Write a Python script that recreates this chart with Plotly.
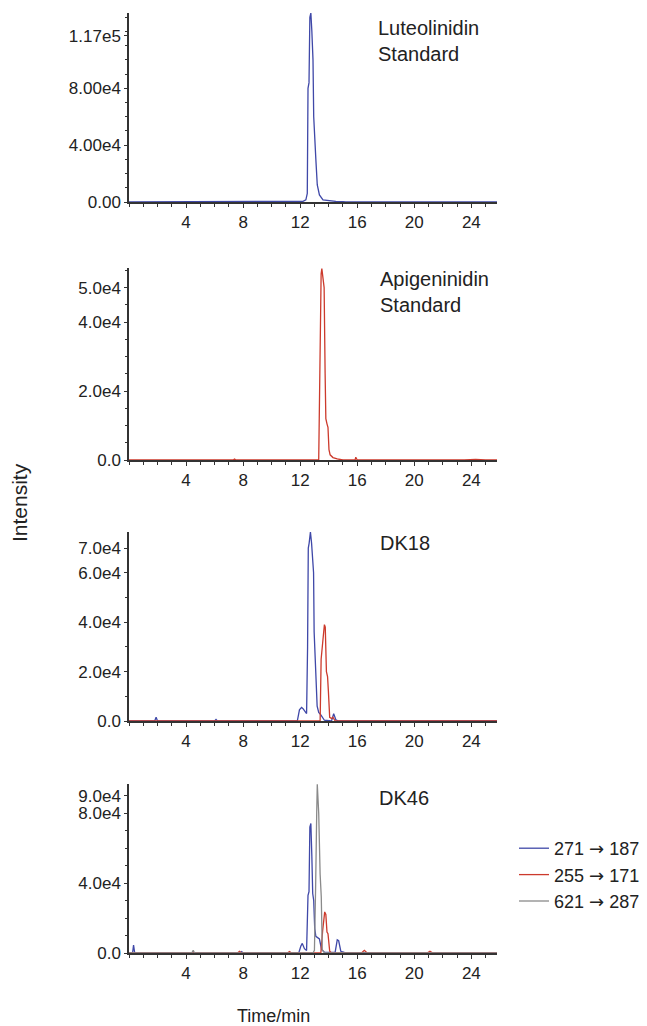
import plotly.graph_objects as go

# ---------------- data ----------------
panel_labels = ["Luteolinidin<br>Standard", "Apigeninidin<br>Standard", "DK18", "DK46"]
legend_names = ["271 \u2192 187", "255 \u2192 171", "621 \u2192 287"]
x_tick_vals = [4, 8, 12, 16, 20, 24]

# Panel 1: Luteolinidin standard (271 -> 187)
p1_blue_t = [0, 11.9, 12.2, 12.4, 12.5, 12.55, 12.62, 12.68, 12.75, 12.82, 12.9, 12.95, 13.0, 13.1, 13.2, 13.35, 13.6, 14.0, 14.5, 15.0, 15.2, 25.8]
p1_blue_i = [0, 0, 500, 1500, 6000, 80000, 84000, 130000, 133000, 120000, 100000, 60000, 45000, 30000, 12000, 5000, 1500, 800, 400, 200, 0, 0]

# Panel 2: Apigeninidin standard (255 -> 171)
p2_red_t = [0, 7.3, 7.4, 7.5, 13.3, 13.38, 13.42, 13.47, 13.52, 13.6, 13.68, 13.75, 13.8, 13.88, 13.95, 14.02, 14.1, 14.3, 14.6, 15.0, 15.85, 15.9, 16.0, 23.5, 24.3, 25.0, 25.8]
p2_red_i = [0, 0, 300, 0, 0, 30000, 35000, 54000, 55500, 53000, 50000, 25000, 12000, 10500, 9500, 3000, 1500, 700, 300, 0, 0, 800, 0, 0, 200, 0, 0]

# Panel 3: DK18
p3_blue_t = [0, 1.8, 1.9, 2.0, 6.0, 6.1, 6.2, 11.8, 11.95, 12.1, 12.2, 12.35, 12.45, 12.52, 12.57, 12.63, 12.72, 12.8, 12.88, 12.94, 12.98, 13.07, 13.19, 13.3, 13.45, 13.7, 14.2, 14.35, 14.5, 14.7, 25.8]
p3_blue_i = [0, 0, 1500, 0, 0, 600, 0, 0, 4500, 5500, 5000, 3500, 3000, 30000, 70000, 72000, 76500, 72000, 65000, 60000, 36000, 22000, 6000, 3500, 2500, 300, 0, 3000, 500, 0, 0]
p3_red_t = [0, 13.4, 13.47, 13.52, 13.6, 13.7, 13.76, 13.84, 13.92, 13.98, 14.07, 14.2, 14.3, 14.45, 25.8]
p3_red_i = [0, 0, 25000, 29000, 33000, 39000, 38000, 20000, 18000, 12000, 1500, 1000, 1500, 0, 0]

# Panel 4: DK46
p4_blue_t = [0, 0.25, 0.32, 0.4, 7.8, 7.9, 8.0, 11.9, 12.05, 12.15, 12.3, 12.45, 12.55, 12.62, 12.68, 12.75, 12.82, 12.88, 12.95, 13.02, 13.1, 13.2, 13.35, 13.5, 13.7, 14.45, 14.6, 14.7, 14.85, 15.1, 15.8, 25.8]
p4_blue_i = [0, 0, 4500, 0, 0, 800, 0, 0, 4000, 5500, 2500, 1500, 33000, 35000, 72000, 74000, 55000, 34000, 30000, 14000, 9500, 9000, 8000, 2000, 500, 300, 7500, 7000, 1000, 300, 0, 0]
p4_red_t = [0, 7.6, 7.75, 7.9, 11.1, 11.25, 11.4, 13.45, 13.58, 13.65, 13.72, 13.8, 13.88, 13.95, 14.07, 14.2, 16.3, 16.5, 16.7, 20.9, 21.1, 21.3, 25.8]
p4_red_i = [0, 0, 900, 0, 0, 800, 0, 0, 13000, 20000, 23500, 22000, 12000, 11000, 1000, 0, 0, 1500, 0, 0, 1000, 0, 0]
p4_gray_t = [0, 4.4, 4.5, 4.6, 12.9, 13.0, 13.08, 13.12, 13.16, 13.2, 13.25, 13.3, 13.4, 13.48, 13.55, 13.7, 25.8]
p4_gray_i = [0, 0, 1500, 0, 0, 1500, 36000, 76000, 80000, 96500, 90000, 80000, 45000, 32000, 2000, 0, 0]

y_tick_vals = [[0, 40000, 80000, 117000], [0, 20000, 40000, 50000], [0, 20000, 40000, 60000, 70000], [0, 40000, 80000, 90000]]
y_tick_text = [["0.00", "4.00e4", "8.00e4", "1.17e5"], ["0.0", "2.0e4", "4.0e4", "5.0e4"], ["0.0", "2.0e4", "4.0e4", "6.0e4", "7.0e4"], ["0.0", "4.0e4", "8.0e4", "9.0e4"]]
y_max = [133000, 55700, 76500, 96600]
y_minor = [10000, 5000, 10000, 10000]

# ---------------- style / layout ----------------
W, H = 647, 1026
BLUE, RED, GRAY = "#3f48a8", "#cc3a2c", "#8a8a8a"
FONT = "Liberation Sans, Arial, sans-serif"
TXT = "#222222"

x_left, x_right = 129, 497
panel_px = [(13, 202), (268, 460), (532, 721), (784, 953)]  # top, bottom in px
label_px = [(376, 40.5), (378, 291.5), (378, 543), (377, 798)]


def legend_label(s):
    # render the arrow with DejaVu Sans, which has a fuller arrow glyph
    return s.replace("\u2192", "<span style='font-family:DejaVu Sans'>\u2192</span>")


fig = go.Figure()

series = [
    [(p1_blue_t, p1_blue_i, BLUE, None)],
    [(p2_red_t, p2_red_i, RED, None)],
    [(p3_blue_t, p3_blue_i, BLUE, None), (p3_red_t, p3_red_i, RED, None)],
    [(p4_blue_t, p4_blue_i, BLUE, 0), (p4_red_t, p4_red_i, RED, 1), (p4_gray_t, p4_gray_i, GRAY, 2)],
]

for k, traces in enumerate(series):
    sfx = "" if k == 0 else str(k + 1)
    for t, i, col, leg in traces:
        fig.add_trace(go.Scatter(
            x=t, y=i, mode="lines", line=dict(color=col, width=1.3),
            xaxis="x" + sfx, yaxis="y" + sfx,
            name=legend_label(legend_names[leg]) if leg is not None else "",
            showlegend=leg is not None,
        ))

layout = dict(
    width=W, height=H, margin=dict(l=0, r=0, t=0, b=0, pad=0, autoexpand=False),
    paper_bgcolor="white", plot_bgcolor="white",
    font=dict(family=FONT, color=TXT),
    legend=dict(x=514 / W, y=1 - 830 / H, xanchor="left", yanchor="top",
                font=dict(size=18, family=FONT, color=TXT), bgcolor="rgba(0,0,0,0)",
                tracegroupgap=0),
    annotations=[],
)

for k in range(4):
    sfx = "" if k == 0 else str(k + 1)
    top, bot = panel_px[k]
    layout["xaxis" + sfx] = dict(
        domain=[x_left / W, x_right / W], anchor="y" + sfx, range=[0, 25.8],
        automargin=False, layer="above traces",
        showgrid=False, zeroline=False, showline=True, linecolor="#333333", linewidth=1.5,
        ticks="outside", ticklen=4, tickwidth=1, tickcolor="#333333",
        tickvals=x_tick_vals, tickfont=dict(size=17, family=FONT, color=TXT),
        minor=dict(dtick=1, tick0=0, ticks="outside", ticklen=3, tickcolor="#333333"),
    )
    layout["yaxis" + sfx] = dict(
        domain=[1 - bot / H, 1 - top / H], anchor="x" + sfx, range=[0, y_max[k]],
        automargin=False, layer="above traces",
        showgrid=False, zeroline=False, showline=True, linecolor="#333333", linewidth=1.5,
        ticks="outside", ticklen=3, tickwidth=1, tickcolor="#333333",
        tickmode="array", tickvals=y_tick_vals[k], ticktext=y_tick_text[k],
        tickfont=dict(size=17, family=FONT, color=TXT),
        minor=dict(dtick=y_minor[k], tick0=0, ticks="outside", ticklen=2, tickcolor="#333333"),
    )
    lx, ly = label_px[k]
    layout["annotations"].append(dict(
        text=panel_labels[k], xref="paper", yref="paper", x=lx / W, y=1 - ly / H,
        xanchor="left", yanchor="middle", align="left", showarrow=False,
        font=dict(size=20, family=FONT, color=TXT),
    ))

layout["annotations"].append(dict(
    text="Intensity", xref="paper", yref="paper", x=20 / W, y=1 - 503 / H,
    xanchor="center", yanchor="middle", textangle=-90, showarrow=False,
    font=dict(size=21, family=FONT, color=TXT),
))
layout["annotations"].append(dict(
    text="Time/min", xref="paper", yref="paper", x=273 / W, y=1 - 1016 / H,
    xanchor="center", yanchor="middle", showarrow=False,
    font=dict(size=18, family=FONT, color=TXT),
))

fig.update_layout(**layout)
fig.write_html(
    "out.html",
    config={"displayModeBar": False},
    post_script="document.body.style.margin='0';document.body.style.overflow='hidden';",
)
